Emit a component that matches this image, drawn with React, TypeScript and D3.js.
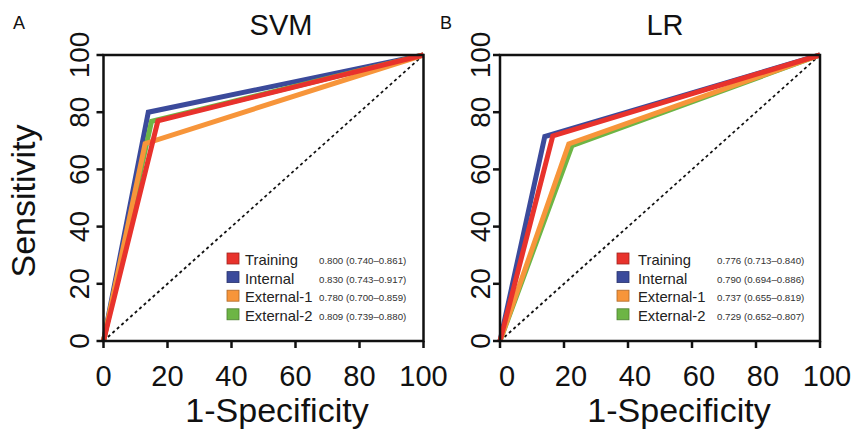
import React from 'react'
import * as d3 from 'd3'

// series shared by both panels
const seriesNames = ['Training', 'Internal', 'External-1', 'External-2']
const seriesColors = ['#e8322c', '#3b4a9b', '#f7953a', '#6db545']

// single-threshold ROC points: [1-specificity, sensitivity] in %
const svmFpr = [17, 14, 13, 15]
const svmSens = [77, 80, 69, 76.8]
const svmAuc = ['0.800 (0.740–0.861)', '0.830 (0.743–0.917)', '0.780 (0.700–0.859)', '0.809 (0.739–0.880)']

const lrFpr = [16.5, 14, 21.5, 22.5]
const lrSens = [71.7, 71.5, 68.9, 68.3]
const lrAuc = ['0.776 (0.713–0.840)', '0.790 (0.694–0.886)', '0.737 (0.655–0.819)', '0.729 (0.652–0.807)']

const axisTicks = [0, 20, 40, 60, 80, 100]

const panels = [
  { letter: 'A', title: 'SVM', fpr: svmFpr, sens: svmSens, auc: svmAuc,
    x0: 103.5, x1: 423.5, letterX: 19, titleX: 281, legendX: 227, textDx: 18, valDx: 92,
    xLabelDx: 0, xTitleX: 277, yLabelGap: 15, yTitle: true },
  { letter: 'B', title: 'LR', fpr: lrFpr, sens: lrSens, auc: lrAuc,
    x0: 500, x1: 820, letterX: 446, titleX: 665, legendX: 617, textDx: 21, valDx: 100,
    xLabelDx: 7, xTitleX: 679, yLabelGap: 10, yTitle: false },
]

const FONT = '"Liberation Sans", Arial, Helvetica, sans-serif'
const yTop = 55
const yBottom = 341

// draw order: blue, green, orange, red on top
const drawOrder = [1, 3, 2, 0]

function Panel({ p }) {
  const x = d3.scaleLinear().domain([0, 100]).range([p.x0, p.x1])
  const y = d3.scaleLinear().domain([0, 100]).range([yBottom, yTop])
  const line = d3.line().x(d => x(d[0])).y(d => y(d[1]))

  return (
    <g fontFamily={FONT}>
      <text x={p.letterX} y={29} fontSize={18} textAnchor="middle" fill="#111">{p.letter}</text>
      <text x={p.titleX} y={35} fontSize={29} textAnchor="middle" fill="#111">{p.title}</text>

      {/* diagonal reference */}
      <path d={line([[0, 0], [100, 100]])} stroke="#111" strokeWidth={1.8} strokeDasharray="3,3" fill="none" />

      {drawOrder.map(i => (
        <path key={i}
          d={line([[0, 0], [p.fpr[i], p.sens[i]], [100, 100]])}
          stroke={seriesColors[i]} strokeWidth={5} fill="none" strokeLinejoin="miter" />
      ))}

      {/* frame */}
      <rect x={p.x0} y={yTop} width={p.x1 - p.x0} height={yBottom - yTop} fill="none" stroke="#111" strokeWidth={2.5} />

      {axisTicks.map(t => (
        <g key={'y' + t}>
          <line x1={p.x0 - 7} x2={p.x0} y1={y(t)} y2={y(t)} stroke="#111" strokeWidth={2.5} />
          <text transform={`translate(${p.x0 - p.yLabelGap},${y(t)}) rotate(-90)`}
            fontSize={28} textAnchor="middle" fill="#111">{t}</text>
        </g>
      ))}
      {axisTicks.map(t => (
        <g key={'x' + t}>
          <line x1={x(t)} x2={x(t)} y1={yBottom} y2={yBottom + 7} stroke="#111" strokeWidth={2.5} />
          <text x={x(t) + p.xLabelDx} y={386} fontSize={29} textAnchor="middle" fill="#111">{t}</text>
        </g>
      ))}

      <text x={p.xTitleX} y={422} fontSize={34} textAnchor="middle" fill="#111">1-Specificity</text>
      {p.yTitle && (
        <text transform={`translate(35,${(yTop + yBottom) / 2 + 3}) rotate(-90)`}
          fontSize={34} textAnchor="middle" fill="#111">Sensitivity</text>
      )}

      {seriesNames.map((name, i) => {
        const by = 265 + i * 18.6
        return (
          <g key={name}>
            <rect x={p.legendX} y={by - 12} width={12} height={11} fill={seriesColors[i]}
              stroke={d3.color(seriesColors[i]).darker(1).toString()} strokeWidth={0.8} />
            <text x={p.legendX + p.textDx} y={by} fontSize={14.8} fill="#222">{name}</text>
            <text x={p.legendX + p.valDx} y={by - 1} fontSize={9.7} fill="#333">{p.auc[i]}</text>
          </g>
        )
      })}
    </g>
  )
}

export default function App() {
  return (
    <div style={{ position: 'absolute', left: 0, top: 0 }}>
      <svg width={856} height={433} style={{ display: 'block', background: '#fff' }}>
        {panels.map(p => <Panel key={p.letter} p={p} />)}
      </svg>
    </div>
  )
}
